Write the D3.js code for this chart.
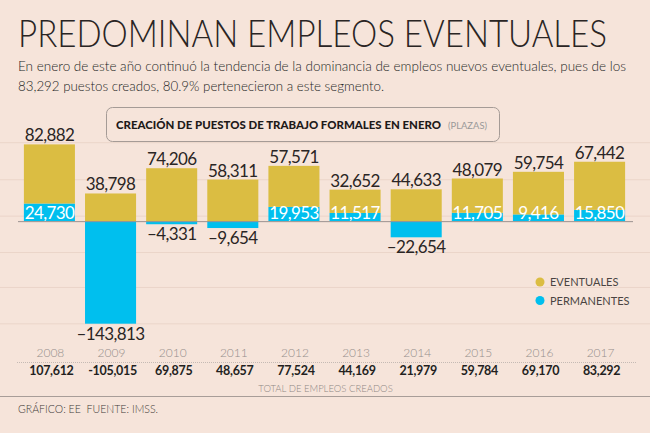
<!DOCTYPE html>
<html><head><meta charset="utf-8">
<script src="https://cdn.jsdelivr.net/npm/d3@7/dist/d3.min.js"></script>
<style>
html,body{margin:0;padding:0;background:#f6e4da;}
svg{display:block;}
</style></head>
<body>
<script>
const years = ["2008","2009","2010","2011","2012","2013","2014","2015","2016","2017"];
const eventuales = [82882, 38798, 74206, 58311, 57571, 32652, 44633, 48079, 59754, 67442];
const permanentes = [24730, -143813, -4331, -9654, 19953, 11517, -22654, 11705, 9416, 15850];
const totales = ["107,612","-105,015","69,875","48,657","77,524","44,169","21,979","59,784","69,170","83,292"];
const gridValues = [110000, 58000, 7000, -44000, -93000, -144000];

const W = 650, H = 433;
const bg = "#f6e4da", yellow = "#dbbd42", blue = "#00bfee";
const font = "Lato, 'Open Sans', sans-serif";

const svg = d3.select("body").append("svg").attr("width", W).attr("height", H);
svg.append("rect").attr("width", W).attr("height", H).attr("fill", bg);

const x = d3.scaleBand().domain(years).range([19, 630]).paddingInner(0.165).paddingOuter(0.08);
const y = d3.scaleLinear().domain([-143813, 107612]).range([323.7, 144.4]);

// gridlines
svg.append("g").selectAll("line").data(gridValues).join("line")
  .attr("x1", 0).attr("x2", W).attr("y1", d => y(d)).attr("y2", d => y(d))
  .attr("stroke", "#ebd5c9").attr("stroke-width", 1);

// title
svg.append("text").attr("transform", "translate(18,47) scale(1,1.13)").text("PREDOMINAN EMPLEOS EVENTUALES")
  .attr("font-family", font).attr("font-weight", 300).attr("font-size", 33)
  .attr("fill", "#2a2524").attr("textLength", 589).attr("lengthAdjust", "spacingAndGlyphs");
svg.append("text").attr("transform", "translate(18,71) scale(1,1.06)")
  .text("En enero de este año continuó la tendencia de la dominancia de empleos nuevos eventuales, pues de los")
  .attr("font-family", font).attr("font-weight", 300).attr("font-size", 13.2).attr("fill", "#231f1e")
  .attr("textLength", 608).attr("lengthAdjust", "spacingAndGlyphs");
svg.append("text").attr("transform", "translate(18,91) scale(1,1.06)")
  .text("83,292 puestos creados, 80.9% pertenecieron a este segmento.")
  .attr("font-family", font).attr("font-weight", 300).attr("font-size", 13.2).attr("fill", "#231f1e")
  .attr("textLength", 366).attr("lengthAdjust", "spacingAndGlyphs");

// box
svg.append("rect").attr("x", 106.5).attr("y", 107.5).attr("width", 393).attr("height", 34)
  .attr("rx", 6).attr("fill", bg).attr("stroke", "#a59b96").attr("stroke-width", 1);
svg.append("text").attr("x", 116).attr("y", 129)
  .text("CREACIÓN DE PUESTOS DE TRABAJO FORMALES EN ENERO")
  .attr("font-family", font).attr("font-weight", 900).attr("font-size", 10.5).attr("fill", "#1e1a19")
  .attr("textLength", 325).attr("lengthAdjust", "spacingAndGlyphs");
svg.append("text").attr("x", 448).attr("y", 129).text("(PLAZAS)")
  .attr("font-family", font).attr("font-size", 9).attr("fill", "#999")
  .attr("textLength", 39).attr("lengthAdjust", "spacingAndGlyphs");

// bars
const data = years.map((yr, i) => ({yr, ev: eventuales[i], pe: permanentes[i], tot: totales[i]}));
const g = svg.append("g");
g.selectAll("rect.pe").data(data).join("rect").attr("class", "pe")
  .attr("x", d => x(d.yr)).attr("width", x.bandwidth())
  .attr("y", d => y(Math.max(0, d.pe))).attr("height", d => Math.abs(y(d.pe) - y(0)))
  .attr("fill", blue);
g.selectAll("rect.ev").data(data).join("rect").attr("class", "ev")
  .attr("x", d => x(d.yr)).attr("width", x.bandwidth())
  .attr("y", d => y(d.ev + Math.max(0, d.pe)))
  .attr("height", d => y(Math.max(0, d.pe)) - y(d.ev + Math.max(0, d.pe)))
  .attr("fill", yellow);

// baseline
svg.append("line").attr("x1", 18).attr("x2", 633).attr("y1", y(0) + 0.5).attr("y2", y(0) + 0.5)
  .attr("stroke", "#9a9290").attr("stroke-width", 1);

const fmt = d3.format(",");
g.selectAll("text.ev").data(data).join("text").attr("class", "ev")
  .attr("x", d => x(d.yr) + x.bandwidth() / 2)
  .attr("y", d => y(d.ev + Math.max(0, d.pe)) - 3)
  .attr("text-anchor", "middle").text(d => fmt(d.ev))
  .attr("font-family", font).attr("font-size", 17).attr("fill", "#2a2524")
  .attr("letter-spacing", -0.6);
g.selectAll("text.pe").data(data).join("text").attr("class", "pe")
  .attr("x", d => x(d.yr) + x.bandwidth() / 2)
  .attr("y", d => d.pe >= 0 ? y(0) - 2 : y(d.pe) + 16)
  .attr("text-anchor", "middle").text(d => d.pe >= 0 ? fmt(d.pe) : "–" + fmt(-d.pe))
  .attr("font-family", font).attr("font-size", 17)
  .attr("fill", d => d.pe >= 0 ? "#ffffff" : "#2a2524")
  .attr("letter-spacing", -0.6);

// legend
const legend = [{t: "EVENTUALES", c: yellow}, {t: "PERMANENTES", c: blue}];
const lg = svg.append("g").selectAll("g").data(legend).join("g");
lg.append("circle").attr("cx", 540).attr("cy", (d, i) => 282 + i * 18.5).attr("r", 4.5).attr("fill", d => d.c);
lg.append("text").attr("x", 550).attr("y", (d, i) => 286 + i * 18.5).text(d => d.t)
  .attr("font-family", font).attr("font-size", 11).attr("fill", "#4a4442");

// x axis years
const xa = svg.append("g");
xa.selectAll("text.yr").data(data).join("text").attr("class", "yr")
  .attr("x", d => x(d.yr) + x.bandwidth() / 2 + 1).attr("y", 357)
  .attr("text-anchor", "middle").text(d => d.yr)
  .attr("font-family", font).attr("font-weight", 300).attr("font-size", 12).attr("fill", "#958e8b");
svg.append("line").attr("x1", 17).attr("x2", 636).attr("y1", 362.5).attr("y2", 362.5)
  .attr("stroke", "#b9aea9").attr("stroke-width", 0.8).attr("stroke-dasharray", "1,1");
xa.selectAll("text.tot").data(data).join("text").attr("class", "tot")
  .attr("x", d => x(d.yr) + x.bandwidth() / 2 + 2).attr("y", 375)
  .attr("text-anchor", "middle").text(d => d.tot)
  .attr("font-family", font).attr("font-weight", 700).attr("font-size", 12.5).attr("fill", "#231f1e")
  .attr("letter-spacing", -0.3);
svg.append("text").attr("x", 325.5).attr("y", 392).attr("text-anchor", "middle")
  .text("TOTAL DE EMPLEOS CREADOS")
  .attr("font-family", font).attr("font-weight", 300).attr("font-size", 9.5).attr("fill", "#8f8784");

svg.append("line").attr("x1", 0).attr("x2", W).attr("y1", 396.5).attr("y2", 396.5)
  .attr("stroke", "#a89d98").attr("stroke-width", 1);
svg.append("text").attr("x", 18).attr("y", 413).text("GRÁFICO: EE  FUENTE: IMSS.")
  .attr("xml:space", "preserve")
  .attr("font-family", font).attr("font-weight", 300).attr("font-size", 11.5).attr("fill", "#3f3a38")
  .attr("textLength", 140).attr("lengthAdjust", "spacingAndGlyphs");
</script>
</body></html>
